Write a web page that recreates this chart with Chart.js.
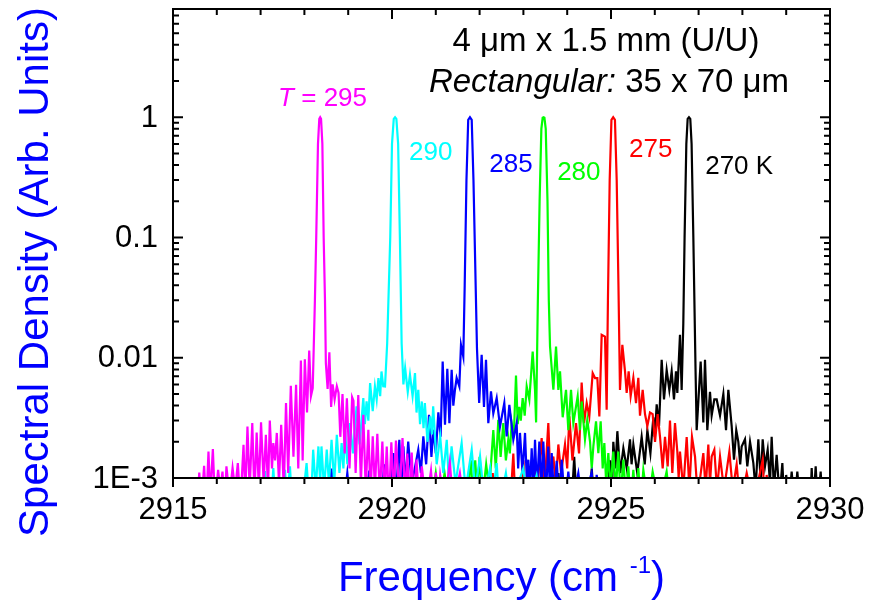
<!DOCTYPE html>
<html>
<head>
<meta charset="utf-8">
<script src="https://cdn.jsdelivr.net/npm/chart.js@4.4.0/dist/chart.umd.min.js"></script>
<style>
  body { margin: 0; background: #fff; }
  #wrap { width: 869px; height: 600px; }
</style>
</head>
<body>
<div id="wrap"><canvas id="chart" width="869" height="600"></canvas></div>
<script>
// spectra: [frequency (cm^-1), spectral density]
const spec295 = [[2915.55,0.0006],[2915.60,0.00111],[2915.65,0.0006],[2915.71,0.00126],[2915.76,0.0006],[2915.81,0.00166],[2915.85,0.0007],[2915.91,0.00174],[2915.96,0.0006],[2916.03,0.00117],[2916.08,0.0008],[2916.13,0.00113],[2916.18,0.0006],[2916.22,0.00125],[2916.29,0.0007],[2916.36,0.00121],[2916.42,0.0008],[2916.48,0.00133],[2916.54,0.0006],[2916.61,0.00189],[2916.65,0.0007],[2916.70,0.00268],[2916.75,0.0008],[2916.81,0.00286],[2916.86,0.0007],[2916.91,0.00239],[2916.96,0.0008],[2917.01,0.0029],[2917.07,0.0009],[2917.12,0.00229],[2917.17,0.0008],[2917.21,0.00301],[2917.26,0.0012],[2917.29,0.00195],[2917.33,0.0014],[2917.37,0.00237],[2917.42,0.0009],[2917.47,0.00277],[2917.53,0.0008],[2917.58,0.0042],[2917.63,0.0011],[2917.69,0.00585],[2917.75,0.0015],[2917.81,0.00596],[2917.86,0.0012],[2917.92,0.0095],[2917.96,0.0014],[2918.01,0.0097],[2918.06,0.0035],[2918.11,0.0115],[2918.15,0.0048],[2918.19,0.0056],[2918.24,0.03],[2918.27,0.1],[2918.31,0.6],[2918.34,0.97],[2918.36,1],[2918.38,0.97],[2918.41,0.6],[2918.44,0.1],[2918.47,0.03],[2918.49,0.009],[2918.53,0.0055],[2918.57,0.0111],[2918.61,0.0039],[2918.645,0.006],[2918.69,0.0045],[2918.74,0.0058],[2918.78,0.0051],[2918.82,0.0022],[2918.87,0.005],[2918.92,0.0016],[2918.97,0.0046],[2919.03,0.0012],[2919.09,0.0047],[2919.12,0.0044],[2919.17,0.0011],[2919.23,0.0049],[2919.29,0.0009],[2919.345,0.00336],[2919.40,0.0008],[2919.46,0.00252],[2919.51,0.0007],[2919.56,0.00222],[2919.61,0.0008],[2919.665,0.00233],[2919.72,0.0007],[2919.78,0.00201],[2919.83,0.0007],[2919.88,0.00183],[2919.93,0.0006],[2919.985,0.00198],[2920.04,0.0007],[2920.09,0.00205],[2920.17,0.0007],[2920.24,0.00215],[2920.30,0.0007],[2920.35,0.0016],[2920.40,0.0006],[2920.45,0.00163],[2920.50,0.0006],[2920.56,0.00142],[2920.62,0.0006],[2920.68,0.00125],[2920.78,0.0006],[2920.89,0.00115],[2920.95,0.0006],[2921.0,0.00111],[2921.05,0.0006],[2921.10,0.00106],[2921.2,0.0006],[2921.32,0.00135],[2921.4,0.0006],[2921.55,0.0011],[2921.65,0.0006]];

const spec290 = [[2917.05,0.0006],[2917.10,0.00114],[2917.15,0.0006],[2917.24,0.0006],[2917.29,0.00121],[2917.34,0.0006],[2917.50,0.0006],[2917.557,0.00117],[2917.60,0.0006],[2917.67,0.00125],[2917.72,0.0006],[2917.95,0.0006],[2918.05,0.00133],[2918.10,0.0007],[2918.15,0.0006],[2918.20,0.00172],[2918.26,0.0008],[2918.32,0.00183],[2918.36,0.0009],[2918.39,0.00183],[2918.45,0.0008],[2918.51,0.00172],[2918.56,0.0009],[2918.62,0.00208],[2918.68,0.0009],[2918.74,0.00229],[2918.80,0.0011],[2918.85,0.00195],[2918.89,0.0012],[2918.93,0.00244],[2918.98,0.0013],[2919.04,0.00286],[2919.11,0.0016],[2919.19,0.00394],[2919.26,0.0019],[2919.345,0.00462],[2919.38,0.0028],[2919.42,0.00433],[2919.46,0.003],[2919.50,0.00615],[2919.56,0.0036],[2919.61,0.00577],[2919.65,0.0045],[2919.69,0.00678],[2919.73,0.0048],[2919.76,0.00769],[2919.80,0.0058],[2919.84,0.00577],[2919.89,0.0132],[2919.96,0.1],[2920.00,0.6],[2920.04,0.97],[2920.07,1],[2920.10,0.97],[2920.14,0.6],[2920.18,0.1],[2920.22,0.0132],[2920.26,0.006],[2920.30,0.0082],[2920.36,0.0052],[2920.41,0.00722],[2920.47,0.0048],[2920.525,0.00745],[2920.56,0.0035],[2920.60,0.00542],[2920.64,0.0028],[2920.68,0.00433],[2920.72,0.0026],[2920.75,0.0042],[2920.81,0.002],[2920.87,0.00325],[2920.91,0.0023],[2920.94,0.00394],[2921.02,0.0013],[2921.10,0.00222],[2921.17,0.0011],[2921.25,0.00208],[2921.30,0.0009],[2921.36,0.00183],[2921.45,0.0009],[2921.59,0.00195],[2921.68,0.0008],[2921.82,0.00172],[2921.90,0.0008],[2922.01,0.00151],[2922.10,0.0007],[2922.24,0.00121],[2922.30,0.0007],[2922.39,0.00133],[2922.45,0.0006],[2922.6,0.0011],[2922.7,0.0006],[2923.0,0.0012],[2923.1,0.0006],[2923.3,0.00105],[2923.4,0.0006]];

const spec285 = [[2918.55,0.0006],[2918.62,0.0012],[2918.68,0.0006],[2918.9,0.0006],[2918.98,0.0011],[2919.05,0.0006],[2919.4,0.0006],[2919.48,0.00115],[2919.55,0.0006],[2919.75,0.0006],[2919.82,0.0013],[2919.88,0.0006],[2919.96,0.0008],[2920.03,0.00161],[2920.09,0.0007],[2920.167,0.00208],[2920.21,0.0008],[2920.26,0.00183],[2920.31,0.0009],[2920.37,0.00201],[2920.45,0.0009],[2920.52,0.0012],[2920.60,0.00172],[2920.66,0.0011],[2920.715,0.00222],[2920.78,0.0013],[2920.845,0.00336],[2920.90,0.0015],[2920.944,0.00252],[2921.00,0.0016],[2921.058,0.00351],[2921.11,0.0022],[2921.157,0.0093],[2921.21,0.00277],[2921.263,0.0081],[2921.31,0.00286],[2921.362,0.00794],[2921.40,0.004],[2921.438,0.00542],[2921.476,0.00678],[2921.537,0.00577],[2921.575,0.0128],[2921.628,0.0102],[2921.66,0.04],[2921.70,0.3],[2921.74,0.95],[2921.78,1],[2921.82,0.95],[2921.86,0.3],[2921.90,0.06],[2921.94,0.012],[2921.99,0.0042],[2922.047,0.0106],[2922.10,0.0039],[2922.146,0.0096],[2922.199,0.00286],[2922.26,0.00525],[2922.313,0.00345],[2922.39,0.00462],[2922.466,0.00268],[2922.564,0.0042],[2922.618,0.00222],[2922.679,0.00406],[2922.77,0.00208],[2922.846,0.00286],[2922.88,0.0012],[2922.922,0.00237],[2922.98,0.0011],[2923.037,0.00237],[2923.08,0.0009],[2923.113,0.00142],[2923.15,0.0008],[2923.189,0.00177],[2923.23,0.0008],[2923.265,0.00208],[2923.31,0.0008],[2923.364,0.00201],[2923.41,0.0008],[2923.455,0.00201],[2923.51,0.0007],[2923.569,0.00183],[2923.61,0.0007],[2923.646,0.00161],[2923.70,0.0007],[2923.76,0.00139],[2923.82,0.0006],[2923.874,0.00142],[2923.95,0.0006],[2924.026,0.00113],[2924.1,0.0006],[2924.254,0.0011],[2924.35,0.0006],[2924.559,0.00111],[2924.62,0.0006],[2924.673,0.00106],[2924.75,0.0006]];

const spec280 = [[2920.9,0.0006],[2921.0,0.0011],[2921.1,0.0006],[2921.2,0.0011],[2921.3,0.0006],[2921.7,0.0006],[2921.80,0.0014],[2921.85,0.0007],[2921.90,0.0014],[2921.95,0.0007],[2922.0,0.0015],[2922.07,0.0007],[2922.15,0.0013],[2922.22,0.0008],[2922.313,0.0025],[2922.37,0.0012],[2922.427,0.00305],[2922.48,0.0015],[2922.541,0.00286],[2922.60,0.0014],[2922.656,0.0021],[2922.69,0.0016],[2922.732,0.00286],[2922.78,0.0022],[2922.831,0.0071],[2922.87,0.0028],[2922.907,0.0039],[2922.94,0.003],[2922.983,0.00462],[2923.03,0.0033],[2923.075,0.00577],[2923.135,0.00448],[2923.212,0.01127],[2923.265,0.00542],[2923.29,0.0029],[2923.33,0.03],[2923.37,0.2],[2923.41,0.8],[2923.44,0.99],[2923.46,1],[2923.48,0.99],[2923.51,0.8],[2923.55,0.2],[2923.58,0.03],[2923.608,0.0124],[2923.684,0.00542],[2923.745,0.0124],[2923.798,0.0054],[2923.836,0.0077],[2923.897,0.0032],[2923.973,0.0054],[2924.026,0.0025],[2924.087,0.0054],[2924.14,0.00286],[2924.239,0.00477],[2924.292,0.0025],[2924.33,0.00433],[2924.406,0.0021],[2924.459,0.00305],[2924.521,0.00201],[2924.56,0.0012],[2924.597,0.00183],[2924.658,0.00296],[2924.711,0.00161],[2924.764,0.00296],[2924.81,0.0012],[2924.848,0.00195],[2924.89,0.0009],[2924.939,0.00161],[2924.99,0.0008],[2925.053,0.00166],[2925.11,0.0008],[2925.167,0.00166],[2925.22,0.0007],[2925.282,0.00142],[2925.34,0.0007],[2925.396,0.00125],[2925.45,0.0006],[2925.51,0.00117],[2925.57,0.0006],[2925.624,0.00121],[2925.68,0.0006],[2925.738,0.00117],[2925.85,0.0006],[2925.951,0.00113],[2926.1,0.0006],[2926.27,0.00113],[2926.35,0.0006]];

const spec275 = [[2922.25,0.0006],[2922.3,0.0011],[2922.35,0.0006],[2922.7,0.0006],[2922.77,0.0016],[2922.82,0.0006],[2922.95,0.0006],[2923.0,0.0014],[2923.05,0.0006],[2923.2,0.0006],[2923.25,0.0013],[2923.3,0.0007],[2923.417,0.00215],[2923.48,0.0008],[2923.569,0.00286],[2923.62,0.0009],[2923.684,0.00151],[2923.74,0.0009],[2923.798,0.0019],[2923.86,0.0011],[2923.95,0.0019],[2924.0,0.0012],[2924.049,0.00325],[2924.12,0.0014],[2924.201,0.00286],[2924.27,0.0016],[2924.33,0.00622],[2924.384,0.00286],[2924.445,0.0042],[2924.505,0.00325],[2924.582,0.00745],[2924.635,0.00678],[2924.688,0.00678],[2924.734,0.00325],[2924.787,0.0155],[2924.863,0.015],[2924.901,0.0037],[2924.93,0.03],[2924.97,0.3],[2925.01,0.95],[2925.05,1],[2925.09,0.95],[2925.13,0.3],[2925.17,0.04],[2925.205,0.0054],[2925.259,0.0128],[2925.32,0.0077],[2925.358,0.0051],[2925.403,0.0077],[2925.449,0.0048],[2925.51,0.0068],[2925.571,0.0042],[2925.624,0.0068],[2925.662,0.0033],[2925.723,0.0054],[2925.776,0.0034],[2925.83,0.0027],[2925.89,0.0035],[2925.951,0.0034],[2926.005,0.002],[2926.065,0.0034],[2926.119,0.0022],[2926.18,0.0012],[2926.233,0.0022],[2926.294,0.00125],[2926.347,0.003],[2926.40,0.0011],[2926.461,0.00286],[2926.514,0.00166],[2926.545,0.001],[2926.575,0.00166],[2926.65,0.0008],[2926.728,0.00219],[2926.79,0.0008],[2926.849,0.0022],[2926.918,0.00151],[2926.98,0.0007],[2927.108,0.00161],[2927.16,0.0008],[2927.222,0.0019],[2927.26,0.0009],[2927.298,0.00151],[2927.359,0.00172],[2927.42,0.0008],[2927.489,0.00151],[2927.58,0.0008],[2927.702,0.00166],[2927.78,0.0008],[2927.869,0.0013],[2927.95,0.0006],[2928.098,0.0011],[2928.25,0.0006],[2928.463,0.00142],[2928.51,0.0006],[2928.554,0.00106],[2928.62,0.0006]];

const spec270 = [[2923.75,0.0006],[2923.8,0.0011],[2923.85,0.0006],[2924.1,0.0006],[2924.16,0.0015],[2924.22,0.0006],[2924.5,0.0006],[2924.56,0.0012],[2924.62,0.0006],[2924.9,0.0006],[2924.98,0.0014],[2925.02,0.0007],[2925.053,0.002],[2925.10,0.0012],[2925.145,0.00245],[2925.21,0.0011],[2925.282,0.00177],[2925.36,0.0012],[2925.434,0.0021],[2925.47,0.0013],[2925.51,0.0019],[2925.60,0.0011],[2925.70,0.0022],[2925.77,0.0013],[2925.83,0.0025],[2925.90,0.0016],[2925.967,0.0032],[2926.0,0.0022],[2926.043,0.0041],[2926.096,0.0027],[2926.157,0.0096],[2926.21,0.0045],[2926.271,0.0079],[2926.332,0.0054],[2926.385,0.0077],[2926.438,0.0045],[2926.484,0.0077],[2926.514,0.0051],[2926.575,0.0155],[2926.613,0.0054],[2926.651,0.0194],[2926.68,0.1],[2926.72,0.6],[2926.75,0.97],[2926.78,1],[2926.81,0.97],[2926.84,0.6],[2926.88,0.1],[2926.93,0.008],[2926.956,0.0025],[2927.047,0.0093],[2927.108,0.0029],[2927.146,0.0096],[2927.199,0.0025],[2927.26,0.0052],[2927.298,0.0033],[2927.359,0.0045],[2927.413,0.0045],[2927.489,0.0033],[2927.565,0.005],[2927.626,0.0025],[2927.679,0.0054],[2927.755,0.0027],[2927.808,0.00142],[2927.86,0.0025],[2927.907,0.002],[2927.95,0.0013],[2927.983,0.00183],[2928.059,0.0021],[2928.112,0.00125],[2928.174,0.002],[2928.25,0.00133],[2928.30,0.0008],[2928.364,0.0021],[2928.42,0.0009],[2928.463,0.0021],[2928.516,0.00125],[2928.577,0.00172],[2928.63,0.0009],[2928.668,0.0022],[2928.72,0.0008],[2928.782,0.00156],[2928.85,0.0007],[2928.912,0.00133],[2928.96,0.0006],[2929.0,0.00106],[2929.06,0.0006],[2929.125,0.00113],[2929.19,0.0006],[2929.254,0.00113],[2929.32,0.0006],[2929.55,0.0006],[2929.582,0.00121],[2929.62,0.0006],[2929.673,0.00125],[2929.72,0.0006],[2929.787,0.00113],[2929.83,0.0006]];

const temps = ['295', '290', '285', '280', '275', '270'];
const colors = ['#ff00ff', '#00ffff', '#0000ff', '#00ff00', '#ff0000', '#000000'];

const xTicks = [2915, 2920, 2925, 2930];
const yTicks = [0.001, 0.01, 0.1, 1];
const yTickLabels = ['1E-3', '0.01', '0.1', '1'];

// labels next to each peak, placed in data coordinates [freq, value]
const peakLabelPos = [[2917.40, 1.24], [2920.39, 0.44], [2922.22, 0.35], [2923.77, 0.30], [2925.41, 0.47], [2927.15, 0.34]];
const peakLabelText = ['295', '290', '285', '280', '275', '270 K'];

const FONT = '"Liberation Sans", Arial, sans-serif';
const allSpectra = [spec295, spec290, spec285, spec280, spec275, spec270];

const framePlugin = {
    id: 'frame',
    afterDraw(chart) {
        const ctx = chart.ctx;
        const xs = chart.scales.x;
        const ys = chart.scales.y;
        const a = chart.chartArea;
        ctx.save();
        ctx.strokeStyle = '#000';
        ctx.lineWidth = 2;
        ctx.strokeRect(a.left, a.top, a.right - a.left, a.bottom - a.top);

        ctx.beginPath();
        // x ticks: every 1 cm-1, long at the labelled ones
        for (let v = xs.min; v <= xs.max; v++) {
            const px = xs.getPixelForValue(v);
            const major = xTicks.includes(v);
            ctx.moveTo(px, a.bottom); ctx.lineTo(px, a.bottom + (major ? 9 : 6));
            ctx.moveTo(px, a.top); ctx.lineTo(px, a.top + (major ? 10 : 6));
        }
        // y ticks: decades + 2..9 minors
        for (let d = 0.001; d < ys.max; d *= 10) {
            for (let m = 1; m <= 9; m++) {
                const v = d * m;
                if (v > ys.max) break;
                const py = ys.getPixelForValue(v);
                const len = m === 1 ? 10 : 6;
                ctx.moveTo(a.left, py); ctx.lineTo(a.left + len, py);
                ctx.moveTo(a.right, py); ctx.lineTo(a.right - len, py);
            }
        }
        ctx.stroke();

        // tick labels
        ctx.fillStyle = '#000';
        ctx.font = '31px ' + FONT;
        ctx.textAlign = 'center';
        ctx.textBaseline = 'alphabetic';
        xTicks.forEach(v => ctx.fillText(String(v), xs.getPixelForValue(v), a.bottom + 41));
        ctx.textAlign = 'right';
        ctx.textBaseline = 'middle';
        yTicks.forEach((v, i) => ctx.fillText(yTickLabels[i], a.left - 15, ys.getPixelForValue(v) + 1));

        // axis titles
        ctx.fillStyle = '#0000ff';
        ctx.font = '42px ' + FONT;
        ctx.textBaseline = 'alphabetic';
        const t1 = 'Frequency (cm ', sup = '-1', t2 = ')';
        const w1 = ctx.measureText(t1).width;
        const w3 = ctx.measureText(t2).width;
        ctx.font = '24px ' + FONT;
        const w2 = ctx.measureText(sup).width;
        let x0 = (a.left + a.right) / 2 - (w1 + w2 + w3) / 2;
        ctx.font = '42px ' + FONT;
        ctx.textAlign = 'left';
        ctx.fillText(t1, x0, 591);
        ctx.font = '24px ' + FONT;
        ctx.fillText(sup, x0 + w1, 573);
        ctx.font = '42px ' + FONT;
        ctx.fillText(t2, x0 + w1 + w2, 591);

        ctx.save();
        ctx.translate(48, 272);
        ctx.rotate(-Math.PI / 2);
        ctx.textAlign = 'center';
        ctx.fillText('Spectral Density (Arb. Units)', 0, 0);
        ctx.restore();

        // header
        ctx.fillStyle = '#000';
        ctx.textAlign = 'left';
        ctx.font = '33px ' + FONT;
        const h1 = '4 \u03bcm x 1.5 mm (U/U)';
        ctx.fillText(h1, 606 - ctx.measureText(h1).width / 2, 51);
        ctx.font = 'italic 33px ' + FONT;
        const hi = 'Rectangular:';
        const wi = ctx.measureText(hi).width;
        ctx.font = '33px ' + FONT;
        const hr = ' 35 x 70 \u03bcm';
        const wr = ctx.measureText(hr).width;
        const hx = 609 - (wi + wr) / 2;
        ctx.font = 'italic 33px ' + FONT;
        ctx.fillText(hi, hx, 92);
        ctx.font = '33px ' + FONT;
        ctx.fillText(hr, hx + wi, 92);

        // peak labels
        ctx.font = '26px ' + FONT;
        peakLabelPos.forEach((p, i) => {
            const px = xs.getPixelForValue(p[0]);
            const py = ys.getPixelForValue(p[1]);
            ctx.fillStyle = colors[i];
            if (i === 0) {
                ctx.font = 'italic 26px ' + FONT;
                ctx.fillText('T', px, py);
                const wt = ctx.measureText('T').width;
                ctx.font = '26px ' + FONT;
                ctx.fillText(' = ' + peakLabelText[0], px + wt, py);
            } else {
                ctx.fillText(peakLabelText[i], px, py);
            }
        });
        ctx.restore();
    }
};

new Chart(document.getElementById('chart'), {
    type: 'line',
    data: {
        datasets: allSpectra.map((s, i) => ({
            label: temps[i] + ' K',
            data: s.map(p => ({ x: p[0], y: p[1] })),
            borderColor: colors[i],
            borderWidth: 2.2,
            pointRadius: 0,
            tension: 0,
            fill: false,
            order: i,
        })),
    },
    options: {
        responsive: false,
        animation: false,
        layout: { padding: { left: 173, right: 39, top: 9, bottom: 122 } },
        plugins: { legend: { display: false }, tooltip: { enabled: false } },
        scales: {
            x: {
                type: 'linear', min: 2915, max: 2930,
                grid: { display: false }, border: { display: false },
                ticks: { display: false },
                afterFit: (s) => { s.height = 0; },
            },
            y: {
                type: 'logarithmic', min: 0.001, max: 7.94,
                grid: { display: false }, border: { display: false },
                ticks: { display: false },
                afterFit: (s) => { s.width = 0; },
            },
        },
    },
    plugins: [framePlugin],
});
</script>
</body>
</html>
